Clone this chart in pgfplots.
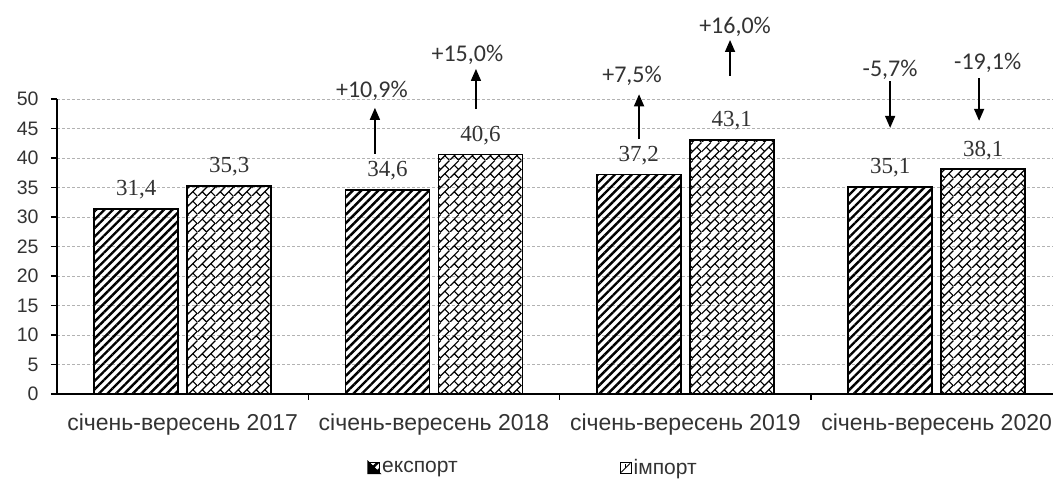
\documentclass[border=0pt]{standalone}
\usepackage{fontspec}
\setmainfont{Liberation Sans}
\newfontfamily\serifv{Liberation Serif}
\newfontfamily\calib{Carlito}
\usepackage{pgfplots}
\pgfplotsset{compat=1.18}
\usetikzlibrary{patterns,patterns.meta,arrows.meta}

\pgfdeclarepatternformonly{dbrick}{\pgfqpoint{0pt}{0pt}}{\pgfqpoint{18pt}{18pt}}{\pgfqpoint{18pt}{18pt}}{
  \pgfsetlinewidth{1.2pt}
  \pgfsetrectcap
  \pgfpathmoveto{\pgfqpoint{0pt}{0pt}}\pgfpathlineto{\pgfqpoint{18pt}{18pt}}
  \pgfpathmoveto{\pgfqpoint{0pt}{9pt}}\pgfpathlineto{\pgfqpoint{9pt}{18pt}}
  \pgfpathmoveto{\pgfqpoint{9pt}{0pt}}\pgfpathlineto{\pgfqpoint{18pt}{9pt}}
  \pgfpathmoveto{\pgfqpoint{9pt}{0pt}}\pgfpathlineto{\pgfqpoint{4.5pt}{4.5pt}}
  \pgfpathmoveto{\pgfqpoint{18pt}{9pt}}\pgfpathlineto{\pgfqpoint{13.5pt}{13.5pt}}
  \pgfpathmoveto{\pgfqpoint{9pt}{9pt}}\pgfpathlineto{\pgfqpoint{4.5pt}{13.5pt}}
  \pgfpathmoveto{\pgfqpoint{18pt}{0pt}}\pgfpathlineto{\pgfqpoint{13.5pt}{4.5pt}}
  \pgfusepath{stroke}
}

\definecolor{txt}{HTML}{333333}

\begin{document}
\begin{tikzpicture}
\useasboundingbox (0,0) rectangle (1053pt,484pt);
\begin{axis}[
  at={(57pt,90pt)}, anchor=south west,
  scale only axis, width=996pt, height=295pt,
  xmin=-0.5, xmax=3.463, ymin=0, ymax=50,
  axis lines*=left,
  axis line style={line width=1.3pt, black},
  ytick={0,5,...,50},
  ymajorgrids,
  grid style={dash pattern=on 3pt off 2pt, gray!60, line width=0.8pt},
  tick align=outside,
  major tick length=6pt,
  tick style={line width=1.1pt, black},
  xtick={0.5,1.5,2.5},
  xticklabels={,,},
  extra x ticks={0,1,2,3},
  extra x tick labels={січень-вересень 2017, січень-вересень 2018, січень-вересень 2019, січень-вересень 2020},
  extra x tick style={major tick length=0pt, xticklabel style={yshift=-16pt}},
  xticklabel style={font=\fontsize{23}{26}\selectfont, text=txt},
  yticklabel style={font=\fontsize{19.5}{22}\selectfont, text=txt, xshift=-9pt},
  /pgf/number format/assume math mode=true,
  ybar=9pt, bar width=84pt,
  clip=false,
  nodes near coords={\pgfmathprintnumber[fixed,fixed zerofill,precision=1,use comma,assume math mode=true]{\pgfplotspointmeta}},
  nodes near coords style={font=\serifv\fontsize{23}{26}\selectfont, text=txt, anchor=base, inner sep=0pt, yshift=13pt},
  legend style={at={(0.478,-0.25)}, anchor=center, draw=none, fill=none,
    font=\fontsize{21}{24}\selectfont, text=txt,
    /tikz/every even column/.append style={column sep=160pt}},
  legend columns=2,
]
\addplot[draw=black, line width=1.8pt, pattern={Lines[angle=45,distance=6pt,line width=2.4pt]}, pattern color=black,
  legend image code/.code={
    \fill[black] (0pt,-5.5pt) -- (11pt,-5.5pt) -- (0pt,5.5pt) -- cycle;
    \draw[line width=1.2pt] (0pt,-5.5pt) rectangle (11pt,5.5pt);
    \draw[line width=1.2pt] (0pt,5.5pt) -- (11pt,-5.5pt);
  }] coordinates {(0,31.4) (1,34.6) (2,37.2) (3,35.1)};
\addplot[draw=black, line width=1.8pt, pattern=dbrick, pattern color=black,
  legend image code/.code={
    \draw[line width=1pt, fill=white] (0pt,-5.5pt) rectangle (11pt,5.5pt);
    \draw[line width=1pt] (1pt,-4.5pt) -- (10pt,4.5pt);
    \draw[line width=1pt] (5.5pt,0pt) -- (5.5pt,4pt);
  }] coordinates {(0,35.3) (1,40.6) (2,43.1) (3,38.1)};
\legend{експорт, імпорт}

\tikzset{pct/.style={font=\calib\fontsize{24}{27}\selectfont, text=txt, inner sep=0pt},
         arr/.style={line width=1.5pt, black, -{Triangle[width=10pt,length=12pt]}}}
\draw[arr] (axis cs:0.765,40.7) -- (axis cs:0.765,48.5);
\node[pct] at (axis cs:0.753,51.35) {+10,9\%};
\draw[arr] (axis cs:1.167,48.3) -- (axis cs:1.167,55.1);
\node[pct] at (axis cs:1.133,57.4) {+15,0\%};
\draw[arr] (axis cs:1.816,43.2) -- (axis cs:1.816,50.8);
\node[pct] at (axis cs:1.788,53.9) {+7,5\%};
\draw[arr] (axis cs:2.178,53.9) -- (axis cs:2.178,60.0);
\node[pct] at (axis cs:2.198,62.3) {+16,0\%};
\draw[arr] (axis cs:2.815,53.0) -- (axis cs:2.815,45.1);
\node[pct] at (axis cs:2.815,54.9) {-5,7\%};
\draw[arr] (axis cs:3.169,53.5) -- (axis cs:3.169,46.3);
\node[pct] at (axis cs:3.203,56.1) {-19,1\%};
\end{axis}
\end{tikzpicture}
\end{document}
